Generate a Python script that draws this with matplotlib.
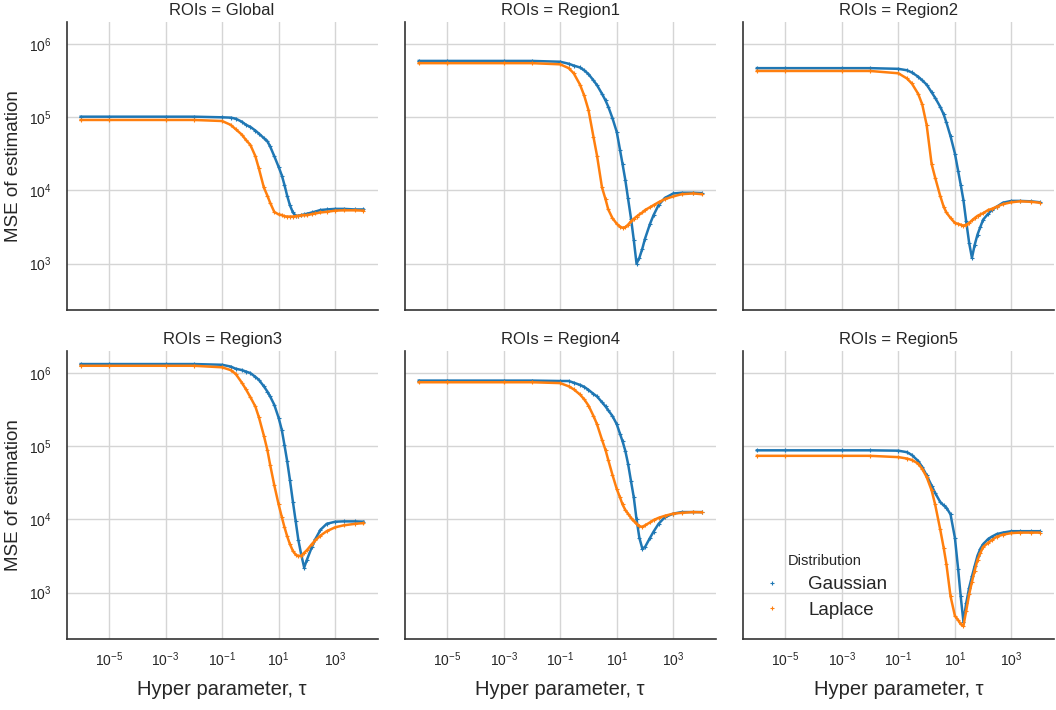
import matplotlib
matplotlib.use("Agg")
import matplotlib.pyplot as plt
from matplotlib.lines import Line2D

# hyper parameter grid (tau)
tau = [1e-6, 1e-5, 1e-3, 1e-2, 0.1, 0.2, 0.3, 0.5, 0.7, 1, 1.5, 2, 3, 4, 5, 7,
       10, 13, 16, 20, 25, 32, 40, 50, 63, 80, 100, 150, 200, 300, 500,
       1000, 2000, 5000, 10000]

rois = ["Global", "Region1", "Region2", "Region3", "Region4", "Region5"]
distributions = ["Gaussian", "Laplace"]

# MSE of estimation
global_gauss = [1.02e5, 1.02e5, 1.02e5, 1.02e5, 1.0e5, 9.9e4, 9.6e4, 8.7e4, 7.9e4, 7.4e4,
                6.6e4, 6.0e4, 5.2e4, 4.7e4, 4.0e4, 2.95e4, 2.1e4, 1.6e4, 1.2e4, 8.5e3,
                6.3e3, 5.0e3, 4.5e3, 4.5e3, 4.6e3, 4.7e3, 4.8e3, 5.0e3, 5.15e3, 5.4e3,
                5.5e3, 5.6e3, 5.6e3, 5.5e3, 5.5e3]
global_lap = [9.2e4, 9.2e4, 9.2e4, 9.2e4, 8.9e4, 7.9e4, 6.9e4, 5.8e4, 4.9e4, 4.2e4,
              2.95e4, 2.0e4, 1.1e4, 8.5e3, 6.8e3, 5.1e3, 4.7e3, 4.6e3, 4.45e3, 4.4e3,
              4.4e3, 4.4e3, 4.45e3, 4.5e3, 4.55e3, 4.6e3, 4.6e3, 4.75e3, 4.85e3, 5.0e3,
              5.1e3, 5.3e3, 5.35e3, 5.35e3, 5.3e3]

region1_gauss = [5.9e5, 5.9e5, 5.9e5, 5.9e5, 5.75e5, 5.4e5, 5.1e5, 4.8e5, 4.4e5, 3.9e5,
                 3.2e5, 2.75e5, 2.1e5, 1.7e5, 1.4e5, 9.8e4, 6.3e4, 3.6e4, 2.3e4, 1.4e4,
                 7.8e3, 4.1e3, 2.1e3, 1.0e3, 1.2e3, 1.6e3, 2.2e3, 3.5e3, 4.6e3, 6.3e3,
                 7.9e3, 9.1e3, 9.3e3, 9.3e3, 9.2e3]
region1_lap = [5.5e5, 5.5e5, 5.5e5, 5.5e5, 5.3e5, 4.7e5, 4.0e5, 2.8e5, 2.0e5, 1.26e5,
               5.4e4, 3.0e4, 1.1e4, 7.6e3, 5.5e3, 4.2e3, 3.5e3, 3.2e3, 3.1e3, 3.15e3,
               3.4e3, 3.8e3, 4.1e3, 4.4e3, 4.7e3, 5.0e3, 5.4e3, 5.9e3, 6.3e3, 6.9e3,
               7.6e3, 8.3e3, 8.9e3, 9.1e3, 8.9e3]

region2_gauss = [4.7e5, 4.7e5, 4.7e5, 4.7e5, 4.6e5, 4.4e5, 4.1e5, 3.6e5, 3.2e5, 2.8e5,
                 2.2e5, 1.85e5, 1.4e5, 1.1e5, 8.5e4, 5.5e4, 3.2e4, 1.85e4, 1.2e4, 7.4e3,
                 3.8e3, 1.9e3, 1.2e3, 1.8e3, 2.5e3, 3.2e3, 4.0e3, 4.8e3, 5.4e3, 6.0e3,
                 6.8e3, 7.2e3, 7.2e3, 7.1e3, 6.9e3]
region2_lap = [4.3e5, 4.3e5, 4.3e5, 4.3e5, 4.0e5, 3.4e5, 2.9e5, 2.1e5, 1.5e5, 7.9e4,
               2.3e4, 1.5e4, 8.5e3, 6.0e3, 5.0e3, 4.2e3, 3.6e3, 3.5e3, 3.4e3, 3.3e3,
               3.4e3, 3.6e3, 3.9e3, 4.2e3, 4.5e3, 4.7e3, 4.9e3, 5.4e3, 5.6e3, 6.0e3,
               6.5e3, 6.9e3, 7.1e3, 7.0e3, 6.8e3]

region3_gauss = [1.33e6, 1.33e6, 1.33e6, 1.33e6, 1.3e6, 1.23e6, 1.15e6, 1.1e6, 1.05e6, 1.0e6,
                 8.9e5, 8.1e5, 6.6e5, 5.6e5, 4.8e5, 3.7e5, 2.45e5, 1.66e5, 1.05e5, 6.3e4,
                 3.5e4, 1.74e4, 9.5e3, 5.2e3, 3.3e3, 2.2e3, 2.8e3, 4.2e3, 5.4e3, 7.2e3,
                 8.7e3, 9.3e3, 9.4e3, 9.4e3, 9.3e3]
region3_lap = [1.26e6, 1.26e6, 1.26e6, 1.26e6, 1.2e6, 1.1e6, 9.8e5, 7.4e5, 6.0e5, 4.7e5,
               3.5e5, 2.5e5, 1.4e5, 8.9e4, 5.6e4, 2.95e4, 1.6e4, 1.07e4, 7.9e3, 5.9e3,
               4.6e3, 3.7e3, 3.3e3, 3.15e3, 3.2e3, 3.5e3, 3.8e3, 4.6e3, 5.2e3, 6.0e3,
               6.9e3, 7.8e3, 8.3e3, 8.7e3, 8.9e3]

region4_gauss = [7.9e5, 7.9e5, 7.9e5, 7.9e5, 7.8e5, 7.8e5, 7.4e5, 6.9e5, 6.5e5, 5.9e5,
                 5.2e5, 4.8e5, 4.0e5, 3.5e5, 3.1e5, 2.6e5, 2.0e5, 1.48e5, 1.17e5, 8.7e4,
                 5.8e4, 3.3e4, 2.0e4, 1.0e4, 5.6e3, 4.0e3, 4.2e3, 5.6e3, 6.8e3, 8.7e3,
                 1.07e4, 1.2e4, 1.26e4, 1.26e4, 1.26e4]
region4_lap = [7.5e5, 7.5e5, 7.5e5, 7.5e5, 7.3e5, 6.6e5, 6.0e5, 5.1e5, 4.4e5, 3.6e5,
               2.6e5, 2.0e5, 1.23e5, 8.9e4, 6.5e4, 4.1e4, 2.6e4, 2.0e4, 1.6e4, 1.35e4,
               1.2e4, 1.05e4, 9.5e3, 8.7e3, 8.1e3, 7.9e3, 8.3e3, 9.1e3, 9.8e3, 1.05e4,
               1.12e4, 1.2e4, 1.23e4, 1.26e4, 1.25e4]

region5_gauss = [8.8e4, 8.8e4, 8.8e4, 8.8e4, 8.7e4, 8.3e4, 7.6e4, 6.3e4, 5.2e4, 4.0e4,
                 2.9e4, 2.3e4, 1.74e4, 1.55e4, 1.45e4, 1.17e4, 5.6e3, 2.1e3, 890, 400,
                 710, 1.17e3, 1.66e3, 2.3e3, 3.2e3, 4.0e3, 4.6e3, 5.4e3, 5.8e3, 6.3e3,
                 6.6e3, 6.9e3, 6.9e3, 6.9e3, 6.9e3]
region5_lap = [7.4e4, 7.4e4, 7.4e4, 7.4e4, 7.1e4, 6.8e4, 6.5e4, 5.8e4, 4.9e4, 3.8e4,
               2.5e4, 1.6e4, 7.4e3, 4.1e3, 2.45e3, 890, 480, 420, 370, 350,
               560, 950, 1.4e3, 2.0e3, 2.8e3, 3.5e3, 4.2e3, 4.8e3, 5.2e3, 5.8e3,
               6.2e3, 6.5e3, 6.6e3, 6.6e3, 6.6e3]

series = {
    "Global": (global_gauss, global_lap),
    "Region1": (region1_gauss, region1_lap),
    "Region2": (region2_gauss, region2_lap),
    "Region3": (region3_gauss, region3_lap),
    "Region4": (region4_gauss, region4_lap),
    "Region5": (region5_gauss, region5_lap),
}
colors = ["#1f77b4", "#ff7f0e"]
text_col = "#262626"

plt.rcParams["font.family"] = ["Liberation Sans", "DejaVu Sans"]
plt.rcParams["mathtext.default"] = "regular"

fig, axes = plt.subplots(2, 3, figsize=(10.56, 7.10), dpi=100, sharex=True, sharey=True)
fig.subplots_adjust(left=0.063, right=0.998, bottom=0.100, top=0.969,
                    wspace=0.087, hspace=0.142)

for ax, roi in zip(axes.flat, rois):
    for vals, col in zip(series[roi], colors):
        ax.plot(tau, vals, color=col, lw=1.8, marker="+", ms=3.5, mew=0.8)
    ax.set_xscale("log")
    ax.set_yscale("log")
    ax.set_title(f"ROIs = {roi}", fontsize=12, color=text_col, pad=5)
    ax.set_xticks([1e-5, 1e-3, 1e-1, 1e1, 1e3])
    ax.set_yticks([1e3, 1e4, 1e5, 1e6])
    ax.minorticks_off()
    ax.grid(True, color="#d5d5d5", lw=1)
    ax.set_axisbelow(True)
    for s in ["top", "right"]:
        ax.spines[s].set_visible(False)
    for s in ["left", "bottom"]:
        ax.spines[s].set_color("#333333")
        ax.spines[s].set_linewidth(1.2)
    ax.tick_params(length=0, labelsize=10, labelcolor=text_col)
    ax.tick_params(axis="x", pad=8)
    ax.tick_params(axis="y", pad=11)

for ax in axes[:, 0]:
    ax.set_ylabel("MSE of estimation", fontsize=13.5, color=text_col, labelpad=5)
for ax in axes[1, :]:
    ax.set_xlabel("Hyper parameter, τ", fontsize=14.5, color=text_col, labelpad=8)

handles = [Line2D([], [], color=c, marker="+", ls="", ms=3.5, mew=0.8) for c in colors]
leg = axes[1, 2].legend(handles, distributions, title="Distribution", loc="lower left",
                        bbox_to_anchor=(0.011, 0.012), frameon=False, fontsize=13.5,
                        title_fontsize=10.5, handlelength=1.0, handletextpad=1.4,
                        labelspacing=0.45)
for t in leg.get_texts():
    t.set_color(text_col)
leg.get_title().set_color(text_col)

fig.savefig("out.png", dpi=100)
